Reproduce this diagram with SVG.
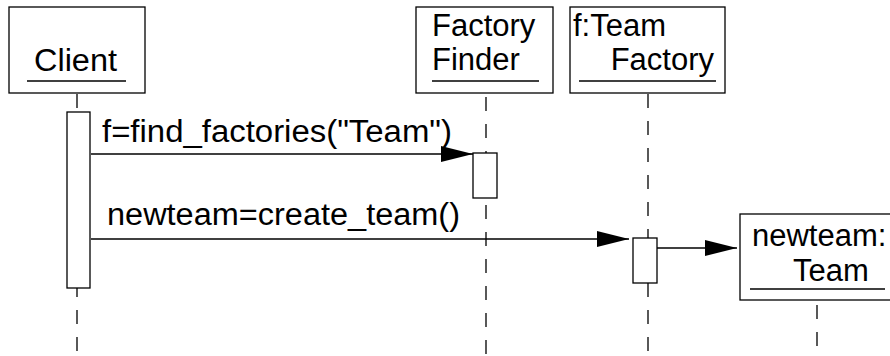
<svg xmlns="http://www.w3.org/2000/svg" width="890" height="356" viewBox="0 0 890 356">
  <defs>
    <style>
      .box { fill: #fff; stroke: #000; stroke-width: 1.3; }
      .uline { stroke: #000; stroke-width: 1.3; }
      .life { stroke: #000; stroke-width: 1.3; stroke-dasharray: 14 13; fill: none; }
      .solid { stroke: #000; stroke-width: 1.3; }
      .act { fill: #fff; stroke: #000; stroke-width: 1.3; }
      .msg { stroke: #000; stroke-width: 1.3; fill: none; marker-end: url(#head); }
      text { font-family: "Liberation Sans", Arial, sans-serif; font-size: 31px; fill: #000; }
    </style>
    <marker id="head" viewBox="0 0 32 16" refX="32" refY="8" markerWidth="32" markerHeight="16" markerUnits="userSpaceOnUse" orient="auto">
      <path d="M0,0 L32,8 L0,16 Z" fill="#000"/>
    </marker>
  </defs>

  <!-- lifelines -->
  <g id="lifelines">
    <line class="life" x1="77" y1="94" x2="77" y2="356"/>
    <line class="life" x1="486" y1="97" x2="486" y2="356"/>
    <line class="life" x1="648" y1="94" x2="648" y2="356"/>
    <line class="life" x1="817" y1="305" x2="817" y2="356"/>
  </g>

  <g id="client">
    <rect class="box" x="9" y="7" width="136" height="86"/>
    <text x="34" y="71" textLength="83" lengthAdjust="spacingAndGlyphs">Client</text>
    <line class="uline" x1="27" y1="81" x2="126" y2="81"/>
    <rect class="act" x="67" y="112" width="23" height="176"/>
  </g>

  <g id="factory-finder">
    <rect class="box" x="416" y="7" width="137" height="86"/>
    <text x="432" y="36">Factory</text>
    <text x="432" y="70">Finder</text>
    <line class="uline" x1="432" y1="81" x2="539" y2="81"/>
    <rect class="act" x="473" y="153" width="24" height="45"/>
  </g>

  <g id="team-factory">
    <rect class="box" x="570" y="7" width="155" height="86"/>
    <text x="573" y="36">f:Team</text>
    <text x="714" y="70" text-anchor="end">Factory</text>
    <line class="uline" x1="579" y1="81" x2="716" y2="81"/>
    <rect class="act" x="633" y="238" width="24" height="45"/>
  </g>

  <g id="newteam">
    <rect class="box" x="740" y="214" width="155" height="86"/>
    <text x="752" y="246">newteam:</text>
    <text x="831" y="281" text-anchor="middle">Team</text>
    <line class="uline" x1="750" y1="289" x2="885" y2="289"/>
  </g>

  <!-- messages -->
  <g id="connectors">
    <line class="msg" x1="91" y1="154" x2="473" y2="154"/>
    <text x="102" y="142" textLength="350" lengthAdjust="spacingAndGlyphs">f=find_factories("Team")</text>
    <line class="msg" x1="91" y1="239" x2="629" y2="239"/>
    <text x="107" y="225" textLength="353" lengthAdjust="spacingAndGlyphs">newteam=create_team()</text>
    <line class="msg" x1="657" y1="248" x2="737" y2="248"/>
  </g>
</svg>
